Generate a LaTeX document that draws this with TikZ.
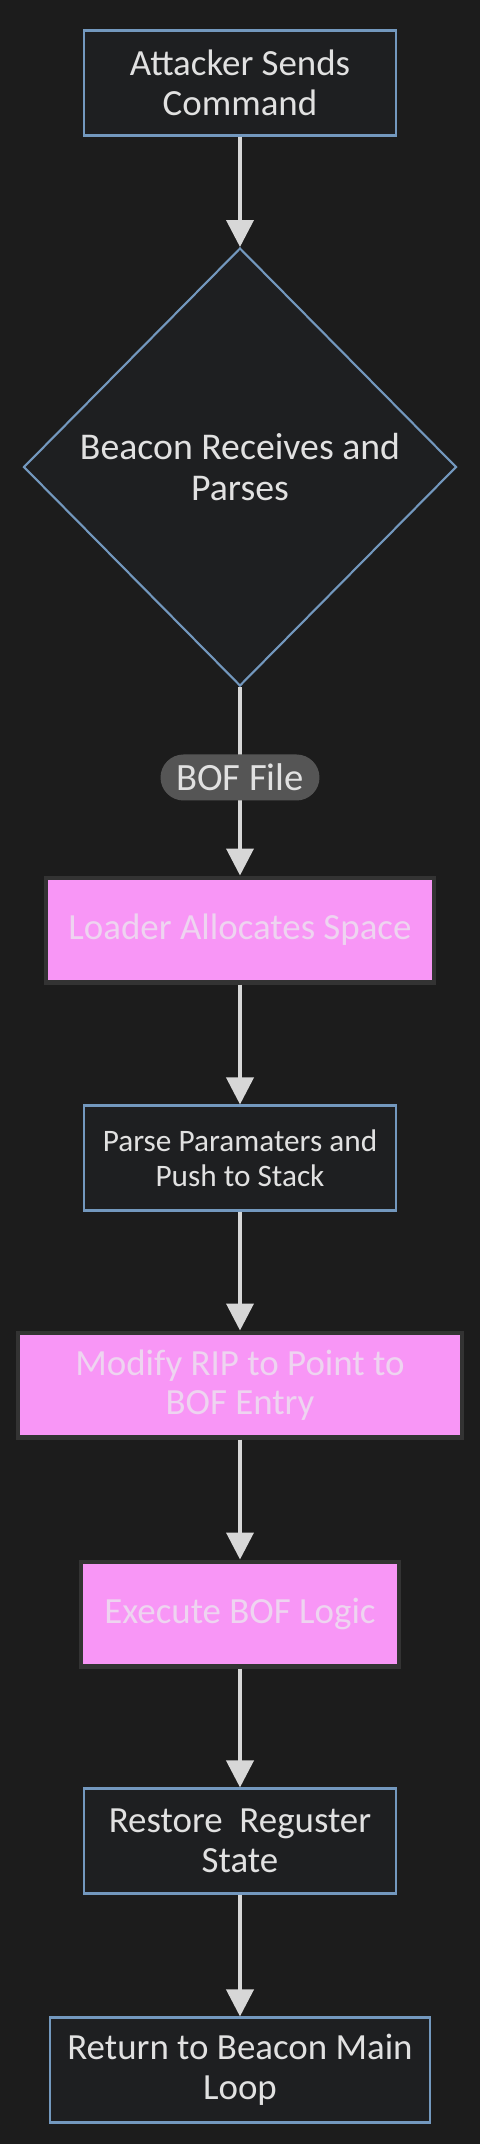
\documentclass[tikz,border=0pt]{standalone}
\usepackage{fontspec}
\setmainfont{Carlito}
\usepackage{tikz}
\usetikzlibrary{shapes.geometric,arrows.meta}
\definecolor{BgDark} {RGB}{28,28,28}
\definecolor{BoxFill}{RGB}{30,31,33}
\definecolor{BoxLine}{RGB}{115,152,190}
\definecolor{TxtLite}{RGB}{225,225,225}
\definecolor{HotFill}{RGB}{248,150,246}
\definecolor{HotLine}{RGB}{51,51,51}
\definecolor{HotTxt} {RGB}{238,212,240}
\definecolor{ArrGray}{RGB}{215,215,215}
\definecolor{LblFill}{RGB}{85,85,85}
\tikzset{
  nd_box/.style={
    rectangle, draw=BoxLine, fill=BoxFill, line width=1.2pt,
    text=TxtLite, align=center, inner sep=0pt,
    minimum width=6.24cm, minimum height=2.1cm,
    font=\fontsize{21}{22.5}\selectfont},
  nd_hot/.style={
    rectangle, draw=HotLine, fill=HotFill, line width=2.3pt,
    text=HotTxt, align=center, inner sep=0pt,
    minimum height=2.1cm,
    font=\fontsize{21}{22.5}\selectfont},
  nd_dec/.style={
    diamond, draw=BoxLine, fill=BoxFill, line width=1.2pt,
    text=TxtLite, align=center, inner sep=0pt,
    minimum width=8.66cm, minimum height=8.76cm,
    font=\fontsize{21.5}{23}\selectfont},
  arr/.style={-{Triangle[length=0.54cm,width=0.54cm]},
    draw=ArrGray, line width=2.2pt},
  lbl/.style={rounded corners=0.46cm, fill=LblFill, text=TxtLite,
    minimum width=3.18cm, minimum height=0.92cm, inner sep=0pt,
    font=\fontsize{22}{24}\selectfont},
}

\begin{document}
\begin{tikzpicture}[x=0.02cm,y=-0.02cm]

\fill[BgDark] (0,0) rectangle (480,2144);

%% nodes, top to bottom
\node[nd_box] at (240,83)   (AS){Attacker Sends\\Command};
\node[nd_dec] at (240,467)  (BR){Beacon Receives and\\Parses};
\node[nd_hot, minimum width=7.78cm] at (240,930)  (LA){Loader Allocates Space};
\node[nd_box, font=\fontsize{17.8}{19.9}\selectfont]
              at (240,1158) (PP){Parse Paramaters and\\Push to Stack};
\node[nd_hot, minimum width=8.88cm] at (240,1385) (MR){Modify RIP to Point to\\BOF Entry};
\node[nd_hot, minimum width=6.38cm] at (240,1614) (EB){Execute BOF Logic};
\node[nd_box] at (240,1841) (RS){Restore~ Reguster\\State};
\node[nd_box, minimum width=7.6cm] at (240,2070) (RB){Return to Beacon Main\\Loop};

%% connectors
\draw[arr] (AS)--(BR);
\draw[arr] (BR)-- node[lbl, pos=0.48]{BOF File} (LA);
\draw[arr] (LA)--(PP);
\draw[arr] (PP)--(MR);
\draw[arr] (MR)--(EB);
\draw[arr] (EB)--(RS);
\draw[arr] (RS)--(RB);

\end{tikzpicture}
\end{document}
